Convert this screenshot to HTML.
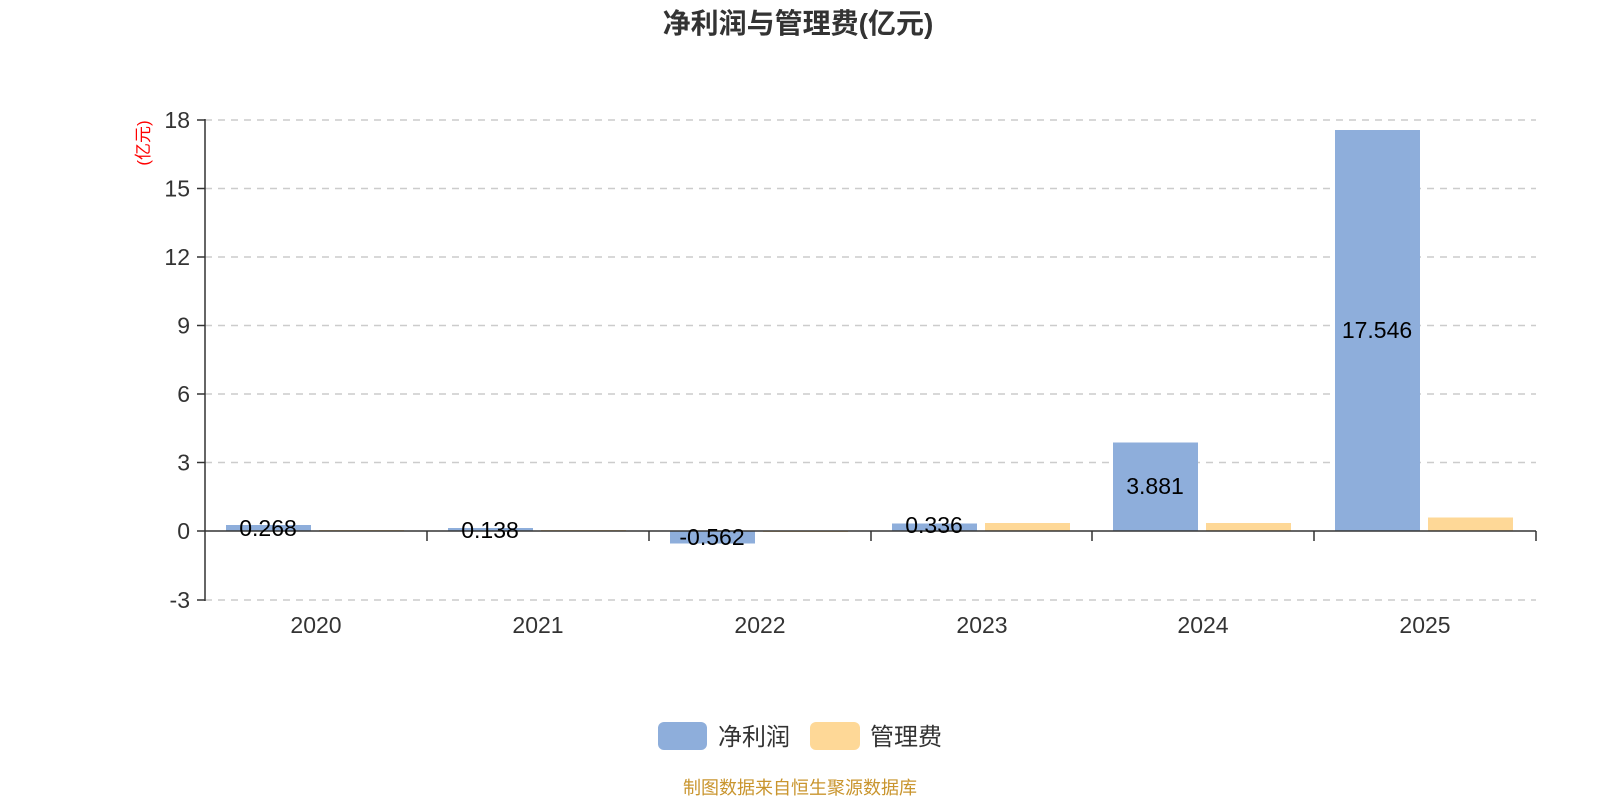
<!DOCTYPE html>
<html><head><meta charset="utf-8"><style>
html,body{margin:0;padding:0;background:#fff;}
svg text{font-family:"Liberation Sans","Noto Sans CJK SC",sans-serif;}
</style></head><body>
<svg width="1600" height="800" viewBox="0 0 1600 800" xmlns="http://www.w3.org/2000/svg">
<rect width="1600" height="800" fill="#fff"/>
<text x="798" y="33" text-anchor="middle" font-size="28" font-weight="bold" fill="#333">净利润与管理费(亿元)</text>
<text transform="translate(149,143) rotate(-90)" text-anchor="middle" font-size="17" fill="#f00">(亿元)</text>
<g stroke="#ccc" stroke-width="1.5" stroke-dasharray="7,6">
<line x1="205" y1="120" x2="1536" y2="120"/>
<line x1="205" y1="188.5" x2="1536" y2="188.5"/>
<line x1="205" y1="257" x2="1536" y2="257"/>
<line x1="205" y1="325.5" x2="1536" y2="325.5"/>
<line x1="205" y1="394" x2="1536" y2="394"/>
<line x1="205" y1="462.5" x2="1536" y2="462.5"/>
<line x1="205" y1="600" x2="1536" y2="600"/>
</g>
<g font-size="23" fill="#333" text-anchor="end">
<text x="190" y="128">18</text>
<text x="190" y="196.5">15</text>
<text x="190" y="265">12</text>
<text x="190" y="333.5">9</text>
<text x="190" y="402">6</text>
<text x="190" y="470.5">3</text>
<text x="190" y="539">0</text>
<text x="190" y="608">-3</text>
</g>
<g stroke="#333" stroke-width="1.5">
<line x1="205" y1="119" x2="205" y2="601"/>
<line x1="197" y1="120" x2="205" y2="120"/>
<line x1="197" y1="188.5" x2="205" y2="188.5"/>
<line x1="197" y1="257" x2="205" y2="257"/>
<line x1="197" y1="325.5" x2="205" y2="325.5"/>
<line x1="197" y1="394" x2="205" y2="394"/>
<line x1="197" y1="462.5" x2="205" y2="462.5"/>
<line x1="197" y1="531" x2="205" y2="531"/>
<line x1="197" y1="600" x2="205" y2="600"/>
</g>
<g fill="#8eaedb">
<rect x="226" y="525" width="85" height="6"/>
<rect x="448" y="528" width="85" height="3"/>
<rect x="670" y="531" width="85" height="12.5"/>
<rect x="892" y="523.5" width="85" height="7.5"/>
<rect x="1113" y="442.5" width="85" height="88.5"/>
<rect x="1335" y="130" width="85" height="401"/>
</g>
<g fill="#fed897">
<rect x="319" y="530" width="85" height="1"/>
<rect x="541" y="530" width="85" height="1"/>
<rect x="763" y="531" width="85" height="1"/>
<rect x="985" y="523" width="85" height="8"/>
<rect x="1206" y="523" width="85" height="8"/>
<rect x="1428" y="517.5" width="85" height="13.5"/>
</g>
<g stroke="#333" stroke-width="1.5">
<line x1="205" y1="531" x2="1536" y2="531"/>
<line x1="427" y1="531" x2="427" y2="541"/>
<line x1="649" y1="531" x2="649" y2="541"/>
<line x1="871" y1="531" x2="871" y2="541"/>
<line x1="1092" y1="531" x2="1092" y2="541"/>
<line x1="1314" y1="531" x2="1314" y2="541"/>
<line x1="1536" y1="531" x2="1536" y2="541"/>
</g>
<g font-size="23" fill="#000" text-anchor="middle">
<text x="268" y="536">0.268</text>
<text x="490" y="538">0.138</text>
<text x="712" y="545">-0.562</text>
<text x="934" y="533">0.336</text>
<text x="1155" y="494">3.881</text>
<text x="1377" y="338">17.546</text>
</g>
<g font-size="23" fill="#333" text-anchor="middle">
<text x="316" y="633">2020</text>
<text x="538" y="633">2021</text>
<text x="760" y="633">2022</text>
<text x="982" y="633">2023</text>
<text x="1203" y="633">2024</text>
<text x="1425" y="633">2025</text>
</g>
<rect x="658" y="722" width="49" height="28" rx="6" fill="#8eaedb"/>
<text x="718" y="745" font-size="24" fill="#333">净利润</text>
<rect x="810" y="722" width="50" height="28" rx="6" fill="#fed897"/>
<text x="870" y="745" font-size="24" fill="#333">管理费</text>
<text x="800" y="794" text-anchor="middle" font-size="18" fill="#c9952e">制图数据来自恒生聚源数据库</text>
</svg>
</body></html>
